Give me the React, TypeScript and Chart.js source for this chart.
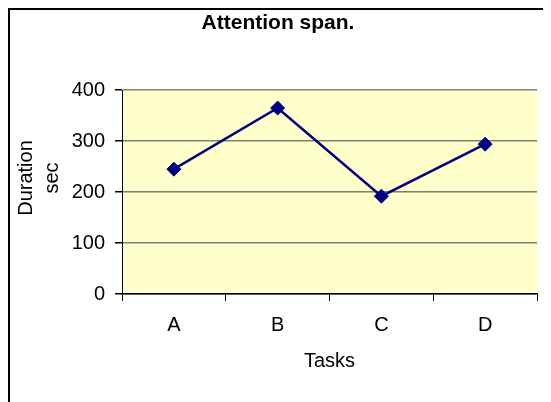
import React, { useEffect, useRef } from "react";
import { Chart, registerables } from "chart.js";

Chart.register(...registerables);

const categories = ["A", "B", "C", "D"];
const durations = [245, 365, 192, 294];
const yTicks = [0, 100, 200, 300, 400];
const chartTitle = "Attention span.";
const xTitle = "Tasks";
const yTitleLines = ["Duration", "sec"];

const FONT = "'Liberation Sans', Arial, sans-serif";

const plotBg = {
  id: "plotBg",
  beforeDraw(chart: any) {
    const { ctx, chartArea } = chart;
    ctx.save();
    ctx.fillStyle = "#FFFFCC";
    ctx.fillRect(chartArea.left, chartArea.top, chartArea.right - chartArea.left, chartArea.bottom - chartArea.top);
    ctx.restore();
  },
};

const yTitlePlugin = {
  id: "yTitlePlugin",
  afterDraw(chart: any) {
    const { ctx } = chart;
    ctx.save();
    ctx.font = `20px ${FONT}`;
    ctx.fillStyle = "#000";
    ctx.textAlign = "center";
    ctx.textBaseline = "middle";
    const cy = 168;
    const xs = [16, 42];
    yTitleLines.forEach((line, i) => {
      ctx.save();
      ctx.translate(xs[i], cy);
      ctx.rotate(-Math.PI / 2);
      ctx.fillText(line, 0, 0);
      ctx.restore();
    });
    ctx.restore();
  },
};

export default function App() {
  const ref = useRef<HTMLCanvasElement | null>(null);

  useEffect(() => {
    document.documentElement.style.overflow = "hidden";
    document.body.style.overflow = "hidden";
    if (!ref.current) return;
    const chart = new Chart(ref.current, {
      type: "line",
      data: {
        labels: categories,
        datasets: [
          {
            data: durations,
            borderColor: "#000080",
            backgroundColor: "#000080",
            borderWidth: 2.5,
            pointStyle: "rectRot",
            pointRadius: 7,
            pointBorderWidth: 1,
            pointBackgroundColor: "#000080",
            pointBorderColor: "#000080",
            tension: 0,
            fill: false,
          },
        ],
      },
      options: {
        responsive: false,
        animation: false,
        devicePixelRatio: 1,
        layout: { padding: { left: 9, right: 14, top: 0, bottom: 0 } },
        plugins: {
          legend: { display: false },
          tooltip: { enabled: false },
          title: {
            display: true,
            text: chartTitle,
            color: "#000",
            font: { family: FONT, size: 21, weight: "bold" },
            padding: { top: 1, bottom: 54 },
          },
        },
        scales: {
          x: {
            offset: true,
            grid: {
              display: true,
              offset: true,
              drawOnChartArea: false,
              drawTicks: true,
              tickLength: 7,
              color: "#000",
              tickColor: "#000",
            },
            border: { display: true, color: "#000", width: 1.5 },
            ticks: {
              color: "#000",
              font: { family: FONT, size: 20 },
              padding: 12,
            },
            title: {
              display: true,
              text: xTitle,
              color: "#000",
              font: { family: FONT, size: 20 },
              padding: { top: 12, bottom: 29 },
            },
            afterFit: (scale: any) => {
              scale.height = 108;
            },
          },
          y: {
            min: 0,
            max: 400,
            afterBuildTicks: (scale: any) => {
              scale.ticks = yTicks.map((v) => ({ value: v }));
            },
            grid: {
              color: "#808070",
              tickColor: "#000",
              tickLength: 7,
              lineWidth: 1.5,
            },
            border: { display: true, color: "#000", width: 1 },
            ticks: {
              color: "#000",
              font: { family: FONT, size: 20 },
              padding: 10,
            },
            afterFit: (scale: any) => {
              scale.width = 103;
            },
          },
        },
      },
      plugins: [plotBg, yTitlePlugin],
    });
    return () => chart.destroy();
  }, []);

  return (
    <div
      style={{
        width: 543,
        height: 394,
        borderLeft: "2px solid #000",
        borderTop: "2px solid #000",
        boxSizing: "border-box",
        background: "#fff",
      }}
    >
      <canvas ref={ref} width={541} height={392} style={{ display: "block" }} />
    </div>
  );
}
